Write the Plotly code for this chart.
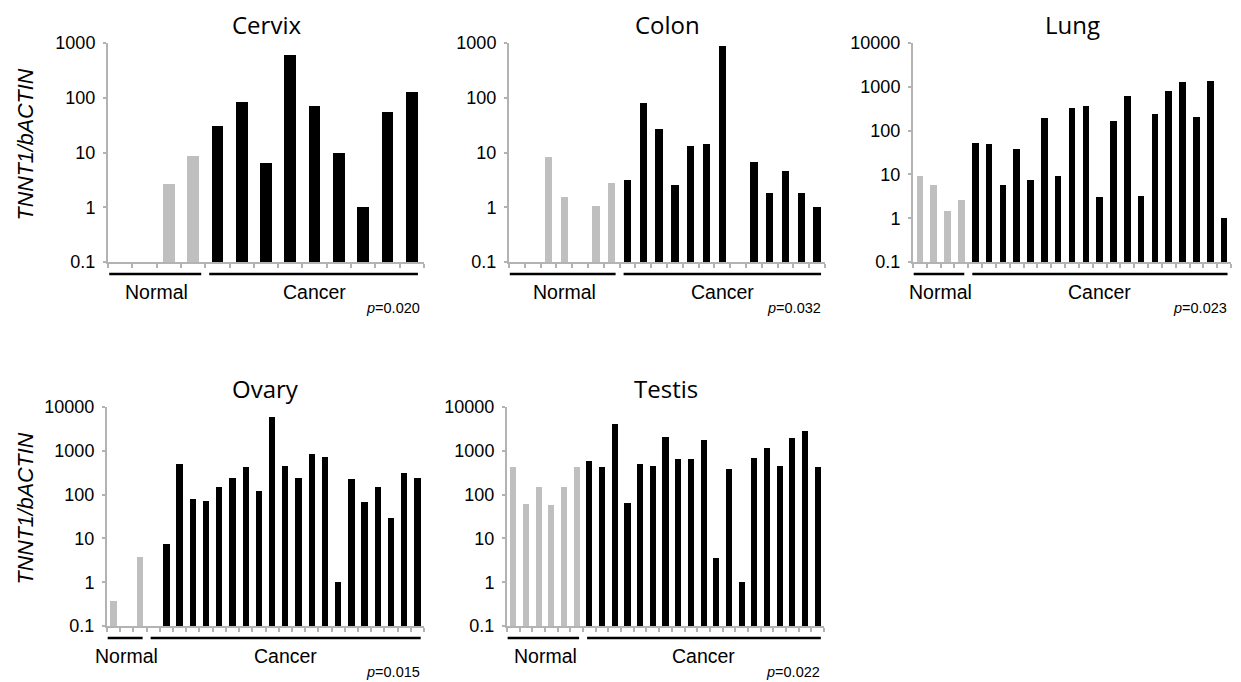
import plotly.graph_objects as go

W, H = 1241, 682
OFF = 8  # default page body margin of the browser

# ---------------- data ----------------
tissues = ["Cervix", "Colon", "Lung", "Ovary", "Testis"]
p_values = ["0.020", "0.032", "0.023", "0.015", "0.022"]

cervix_normal = [None, None, 2.7, 8.8]
cervix_cancer = [30, 82, 6.5, 600, 70, 10, 1.0, 56, 130]

colon_normal = [None, None, 8.4, 1.55, None, 1.05, 2.8]
colon_cancer = [3.2, 80, 27, 2.5, 13, 14.5, 880, None, 6.8, 1.8, 4.5, 1.8, 1.0]

lung_normal = [9.2, 5.8, 1.45, 2.6]
lung_cancer = [52, 49, 5.8, 38, 7.4, 195, 9.1, 325, 360, 3.0, 163, 610, 3.2,
               236, 790, 1280, 205, 1350, 1.0]

ovary_normal = [0.38, None, 3.7]
ovary_cancer = [None, 7.4, 490, 79, 71, 147, 236, 421, 123, 5760, 444, 236,
                832, 712, 1.0, 224, 67, 147, 30, 307, 236]

testis_normal = [420, 61, 147, 58, 147, 420]
testis_cancer = [597, 420, 4000, 66, 510, 444, 2120, 660, 660, 1720, 3.5, 378,
                 1.0, 700, 1130, 444, 2010, 2800, 420]

normals = [cervix_normal, colon_normal, lung_normal, ovary_normal, testis_normal]
cancers = [cervix_cancer, colon_cancer, lung_cancer, ovary_cancer, testis_cancer]
y_max_exp = [3, 3, 4, 4, 4]
tick_vals = [0.1, 1, 10, 100, 1000, 10000]
tick_text = ["0.1", "1", "10", "100", "1000", "10000"]
group_labels = ["Normal", "Cancer"]
y_title = "<i>TNNT1/bACTIN</i>"

# ---------------- layout (pixel boxes in window coords) ----------------
boxes = [  # x0, x1, ytop, ybottom
    (108, 424, 43, 262),
    (509, 825, 43, 262),
    (913, 1231, 43, 262),
    (107, 424, 407, 626),
    (507, 824, 407, 626),
]

GRAY = "#BFBFBF"
AXIS = "#B3B3B3"
TICKFONT = dict(family="Liberation Sans, Arial", size=18, color="black")

FW, FH = W - OFF, H - OFF

fig = go.Figure()
annotations = []
shapes = []

def px(x):
    return (x - OFF) / FW

def py(y):
    return 1 - (y - OFF) / FH

for i, (name, nrm, cnc) in enumerate(zip(tissues, normals, cancers)):
    x0, x1, yt, yb = boxes[i]
    n_n, n_c = len(nrm), len(cnc)
    n = n_n + n_c
    xa = "x" if i == 0 else f"x{i+1}"
    ya = "y" if i == 0 else f"y{i+1}"
    fig.add_trace(go.Bar(x=list(range(n_n)), y=nrm, marker_color=GRAY,
                         marker_line_width=0, width=0.48, xaxis=xa, yaxis=ya,
                         showlegend=False))
    fig.add_trace(go.Bar(x=list(range(n_n, n)), y=cnc, marker_color="black",
                         marker_line_width=0, width=0.48, xaxis=xa, yaxis=ya,
                         showlegend=False))
    key = "" if i == 0 else str(i + 1)
    fig.layout[f"xaxis{key}"] = dict(
        domain=[px(x0), px(x1)], anchor=ya, range=[-0.5, n - 0.5],
        showgrid=False, zeroline=False, showline=True, linecolor=AXIS,
        linewidth=2, ticks="outside", ticklen=4, tickwidth=1.5,
        tickcolor=AXIS, tickvals=[k - 0.5 for k in range(n + 1)],
        showticklabels=False, fixedrange=True, automargin=False)
    mx = y_max_exp[i]
    fig.layout[f"yaxis{key}"] = dict(
        domain=[py(yb), py(yt)], anchor=xa, type="log", range=[-1, mx],
        showgrid=False, zeroline=False, showline=True, linecolor=AXIS,
        linewidth=2, ticks="outside", ticklen=3, tickwidth=1.5,
        tickcolor=AXIS, tickvals=tick_vals[:mx + 2], ticktext=tick_text[:mx + 2],
        tickfont=TICKFONT, ticklabelstandoff=4, fixedrange=True,
        automargin=False)

    catw = (x1 - x0) / n
    # titles
    annotations.append(dict(text=name, xref="paper", yref="paper",
                            x=px((x0 + x1) / 2), y=py(yt - 19), xanchor="center",
                            yanchor="middle", showarrow=False,
                            font=dict(family="Open Sans", size=24, color="black")))
    # group lines
    line_y = py(yb + 12)
    g = 4 / catw
    segs = [(-0.45, n_n - 0.5 - g), (n_n - 0.5 + g, n - 0.5 - 0.25)]
    for (a, b) in segs:
        shapes.append(dict(type="line", xref=xa, yref="paper", x0=a, x1=b,
                           y0=line_y, y1=line_y,
                           line=dict(color="black", width=2.5)))
    # group labels
    centers = [(n_n - 1) / 2, n_n + (n_c - 1) / 2]
    for lab, c in zip(group_labels, centers):
        annotations.append(dict(text=lab, xref=xa, yref="paper", x=c,
                                y=py(yb + 30), xanchor="center", yanchor="middle",
                                showarrow=False,
                                font=dict(family="Liberation Sans, Arial", size=19.5,
                                          color="black")))
    # p-value
    annotations.append(dict(text=f"<i>p</i>={p_values[i]}", xref="paper",
                            yref="paper", x=px(x1 - 2), y=py(yb + 46),
                            xanchor="right", yanchor="middle", showarrow=False,
                            font=dict(family="Liberation Sans, Arial", size=14.5,
                                      color="black")))
    # y title for first column
    if i in (0, 3):
        annotations.append(dict(text=y_title, xref="paper", yref="paper",
                                x=px(25), y=py((yt + yb) / 2 - 8),
                                xanchor="center", yanchor="middle", textangle=-90,
                                showarrow=False,
                                font=dict(family="Liberation Sans, Arial", size=21.5,
                                          color="black")))

fig.update_layout(width=FW, height=FH, margin=dict(l=0, r=0, t=0, b=0, pad=0),
                  paper_bgcolor="white", plot_bgcolor="white",
                  annotations=annotations, shapes=shapes, bargap=0)

fig.write_html("out.html")
